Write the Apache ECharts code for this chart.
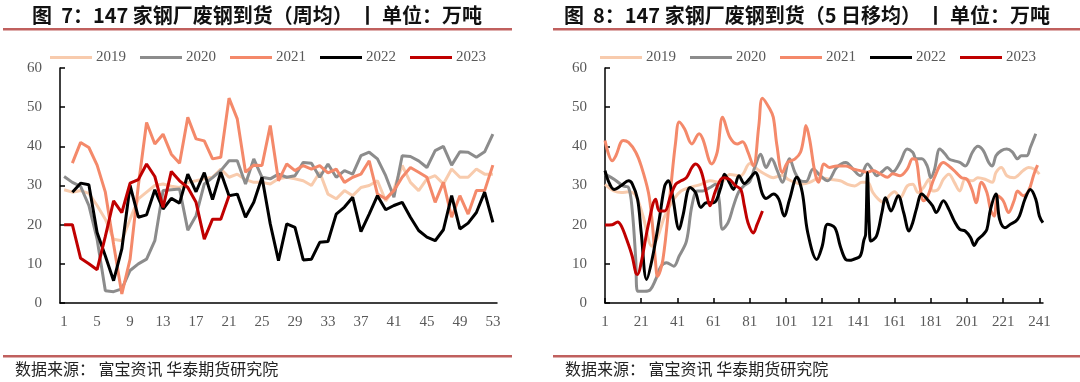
<!DOCTYPE html>
<html><head><meta charset="utf-8">
<script src="https://cdn.jsdelivr.net/npm/echarts@6/dist/echarts.min.js"></script>
<style>html,body{margin:0;padding:0;background:#fff}#c{width:1080px;height:382px}</style>
</head><body><div id="c"></div>
<script>
// ---- Left chart: weekly average (weeks 1..53)
const weeks = Array.from({length: 53}, (_, i) => String(i + 1));
const w2019 = [28.9,28.3,28.7,28,24.9,21.4,16.3,15.9,21.4,26.6,28.3,30,30.4,29.8,29.5,30.8,31.2,31.7,32.1,34.2,32.1,32.9,31.5,30.8,30.8,30.4,31.7,32.1,31.7,31.2,30,33.4,27.8,26.6,28.7,27.4,29.5,30,31.2,26.1,29.1,35.1,30.8,28.7,31.7,32.5,30.4,34.2,32.1,32.1,34.2,32.9,32.9];
const w2020 = [32.3,30.8,29.8,24.9,16.3,3.1,2.9,3.6,8.3,10,11.2,15.9,28.7,28.9,29.1,18.6,22.3,30.4,32,33.8,36.3,36.3,30.4,36.8,32.1,31.7,32.9,32.1,32.5,35.9,35.7,32.1,35.5,32.1,33.8,32.9,37.6,38.5,36.8,32.5,27,37.6,37.4,36.3,34.6,38.9,40,35.2,38.6,38.5,37.2,38.6,43.1];
const w2021 = [null,35.7,41,39.7,35.2,28.3,15,2.3,11.2,30,46.1,40.6,43.1,38,35.7,47.4,41.9,41.4,36.8,37.2,52.3,47,33.4,35.2,35.1,45.3,31.2,35.5,33.8,35.1,34.2,35.1,33.2,34.2,30.8,32.1,32.9,36.3,27.8,26.6,28.7,32.1,34.6,33.4,32.1,25.7,30.8,21.9,27.4,22.7,28.7,28.7,35.2];
const w2022 = [null,28.3,30.6,30.2,18,12,5.7,13.8,30,21.9,22.5,28.9,24,26.7,25.5,32.9,28.4,33.3,26.4,33.4,27.4,27.8,21.9,25.7,32.1,20.2,10.8,20.2,19.3,11,11.2,15.5,15.7,22.7,24.5,27,18.2,22.7,27.4,23.8,24.9,25.7,21.9,18.5,16.8,15.9,18.7,27.4,18.9,20.4,23.1,28.3,20.6];
const w2023 = [20,20,11.4,10,8.5,17,26.1,23.1,30.6,31.5,35.5,32.3,24.4,33.6,31.2,29.5,25.7,16.3,21.4,21.4,27.4];

// ---- Right chart: 5-day moving average (days 1..243), values read at sample days [day, value]
const days = Array.from({length: 243}, (_, i) => String(i + 1));
const d2019 = [[1,30.3],[6,28.6],[10,28.2],[14,28.4],[18,27.4],[22,22.2],[27,14.5],[30,16.7],[34,22.2],[39,26.5],[43,28.6],[48,29.5],[54,30.3],[59,31.2],[65,30.8],[70,32.8],[76,32.5],[81,35.6],[85,34.2],[89,33],[94,32],[99,32.6],[102,31.6],[106,30.8],[110,30.4],[114,30.8],[120,32],[125,31.6],[131,31.2],[135,30.3],[139,29.9],[143,30.8],[146,30.8],[149,28.2],[152,26.5],[155,25.6],[158,27.4],[161,28.4],[164,26.9],[168,29.9],[171,30.3],[174,28.2],[177,29.5],[180,31.6],[182,28.6],[185,29],[188,31.6],[191,32.9],[194,30.8],[197,28.6],[200,31.6],[204,31.2],[207,32],[211,31.6],[215,30.8],[217,33.3],[220,34.6],[223,32.5],[227,32],[229,32.5],[232,33.8],[235,34.6],[238,34.2],[241,32.9]];
const d2020 = [[1,32.9],[6,31.6],[11,29.9],[14,29.5],[16,23.9],[18,11.1],[19,3],[23,3],[26,3.4],[29,6],[32,9.4],[35,10.3],[39,9.4],[42,12],[46,15.8],[49,24.8],[52,28.6],[55,28.6],[59,29.5],[62,30.3],[64,26.5],[66,18.8],[69,20.5],[72,24.8],[75,28.5],[78,30],[81,31],[84,35],[87,38],[90,34.6],[93,36.8],[96,34],[99,30.8],[103,36.8],[106,33.3],[109,31.2],[112,31],[116,34.2],[120,32.5],[124,31.2],[129,34.6],[134,35.9],[138,34.2],[142,32.5],[146,35.5],[149,33.8],[151,32.5],[154,33.5],[157,34.6],[160,33.5],[164,35.9],[168,39.3],[171,38.5],[173,36.8],[176,36.8],[179,35],[181,32],[183,34],[186,39.3],[189,38],[191,36.8],[194,36.3],[197,35.9],[200,35],[204,38.5],[207,40],[210,38.9],[213,35.9],[215,35],[217,37.6],[220,38.9],[223,39.3],[226,38.6],[229,36.8],[231,37.6],[234,37.6],[236,39.7],[239,43.2]];
const d2021 = [[1,41.5],[5,36.3],[7,37.6],[11,41.5],[14,41],[18,38.5],[21,35],[25,28.2],[27,21],[29,10],[30,6.8],[33,11.1],[37,28],[40,41],[42,46.2],[45,44.4],[49,40.6],[53,43.2],[55,41.9],[60,35.5],[63,38.5],[66,47.4],[70,42.3],[74,40.6],[77,41.2],[80,38.5],[83,35],[86,45.3],[88,52.3],[92,49.6],[94,47.4],[96,40.2],[99,33.3],[102,35.9],[106,36.8],[109,38.5],[111,42.7],[112,45.3],[114,41.9],[117,33.3],[119,30.8],[122,35.5],[125,34.6],[129,35],[134,35],[138,34.2],[142,33.8],[146,33.4],[149,33.8],[153,33],[157,32.1],[160,33],[164,32.5],[168,34.2],[171,36.8],[173,36.4],[175,29.9],[177,26.1],[179,26.9],[183,32],[188,35.9],[192,34.6],[195,33.3],[198,32],[201,31.6],[204,28.6],[206,25.6],[209,30.8],[212,28.2],[214,23.9],[216,22.2],[218,27.4],[221,26.1],[224,23.1],[227,26.1],[229,28.6],[232,27.4],[235,28.6],[238,32.9],[240,35.2]];
const d2022 = [[1,33.8],[3,31],[6,29],[10,30],[14,31.2],[16,30.5],[19,26.5],[21,18],[24,6],[27,11.1],[31,21.4],[34,29.9],[36,31.2],[38,28.2],[42,18.8],[44,22.2],[48,29.5],[51,28.2],[54,24.4],[57,25.6],[61,25.6],[65,29.5],[67,32.9],[70,30.5],[72,29],[75,32.5],[78,30.5],[81,31.8],[84,33.3],[88,27.8],[90,26.7],[94,27.8],[97,26.5],[100,22.2],[103,26.5],[107,32.1],[110,28.2],[113,18],[118,11.1],[121,14.5],[124,20.1],[128,19.2],[131,14.5],[134,11.1],[136,10.9],[138,11.1],[142,12],[144,16],[145,17.5],[146,33.3],[147,20],[148,15.8],[151,17.1],[154,23.1],[156,26.9],[159,23.5],[163,27.4],[166,23.1],[169,18.4],[171,20.5],[173,23.9],[176,27.8],[179,26.5],[182,24.8],[184,23.1],[188,26.1],[191,23.9],[194,20.9],[197,18.8],[200,18.4],[203,16.7],[205,14.7],[207,16.2],[210,17.5],[212,18.8],[214,23.9],[217,27.8],[219,21.4],[222,19.2],[225,20.1],[228,20.9],[230,22.2],[233,26.5],[236,29],[239,26.5],[241,22.2],[243,20.5]];
const d2023 = [[1,19.9],[5,20],[8,20.7],[10,19.7],[13,16.2],[16,12],[18,7.7],[19,7.3],[21,10.3],[25,20.1],[29,26.5],[31,23.5],[34,23.5],[37,27],[40,30.3],[43,31.2],[46,32],[49,34.6],[51,35.5],[54,33.8],[57,28.2],[59,24.8],[62,28.6],[65,31.6],[67,32],[70,31.5],[73,30],[76,29],[78,24.8],[80,20.5],[83,17.9],[85,20],[88,23.5]];

const seriesNames = ['2019','2020','2021','2022','2023'];
const yTicks = [0,10,20,30,40,50,60];
const titleLeft = '图  7：147 家钢厂废钢到货（周均） 丨 单位：万吨';
const titleRight = '图  8：147 家钢厂废钢到货（5 日移均） 丨 单位：万吨';
const sourceText = '数据来源： 富宝资讯 华泰期货研究院';

const colors = ['#F8CBAD','#8C8C8C','#F4896A','#000000','#C00000'];
function expand(pairs){ const a = new Array(243).fill(null); pairs.forEach(p => { a[p[0]-1] = p[1]; }); return a; }

const serif = 'Liberation Serif';
const labelStyle = {color:'#595959', fontFamily: serif, fontSize: 15};
function yAxis(gi){ return {type:'value', gridIndex: gi, min: yTicks[0], max: yTicks[yTicks.length-1], interval: 10,
  axisLine:{show:true, lineStyle:{color:'#000', width:1.5}}, axisTick:{show:true, inside:true, length:5, lineStyle:{color:'#000', width:1.5}},
  splitLine:{show:false}, axisLabel:{...labelStyle, margin:18}}; }

const leftData = [w2019,w2020,w2021,w2022,w2023];
const rightData = [d2019,d2020,d2021,d2022,d2023].map(expand);

const series = [];
seriesNames.forEach((n,i) => series.push({name:n, type:'line', xAxisIndex:0, yAxisIndex:0, data: leftData[i], symbol:'none', lineStyle:{width:3, color:colors[i]}, itemStyle:{color:colors[i]}, z: 2+i}));
seriesNames.forEach((n,i) => series.push({name:n, type:'line', xAxisIndex:1, yAxisIndex:1, data: rightData[i], connectNulls:true, smooth:0.35, symbol:'none', lineStyle:{width:3, color:colors[i]}, itemStyle:{color:colors[i]}, z: 2+i}));

const legendBase = {data: seriesNames, top: 45, itemWidth: 42, itemHeight: 3, icon: 'rect', itemGap: 14,
  textStyle:{color:'#595959', fontFamily: serif, fontSize: 15, padding:[0,0,0,-1]}};

const chart = echarts.init(document.getElementById('c'), null, {renderer:'canvas'});
chart.setOption({
  animation: false,
  backgroundColor: '#fff',
  legend: [ {...legendBase, left: 45}, {...legendBase, left: 595} ],
  grid: [ {left:60, top:68, width:437, height:235}, {left:605, top:68, width:438, height:235} ],
  xAxis: [
    {type:'category', gridIndex:0, data: weeks, boundaryGap:true,
     axisLine:{lineStyle:{color:'#000', width:1.5}}, axisTick:{inside:true, length:5, interval:3, lineStyle:{color:'#000', width:1.5}},
     axisLabel:{...labelStyle, interval:3, margin:12}},
    {type:'category', gridIndex:1, data: days, boundaryGap:false,
     axisLine:{lineStyle:{color:'#000', width:1.5}}, axisTick:{inside:true, length:5, interval:19, lineStyle:{color:'#000', width:1.5}},
     axisLabel:{...labelStyle, interval:19, margin:12}}
  ],
  yAxis: [yAxis(0), yAxis(1)],
  series: series,
  graphic: [
    {type:'text', x: 257, y: 5, style:{text: titleLeft, align:'center', font: 'bold 20px "Noto Sans CJK SC"', fill:'#111'}},
    {type:'text', x: 807, y: 5, style:{text: titleRight, align:'center', font: 'bold 20px "Noto Sans CJK SC"', fill:'#111'}},
    {type:'rect', shape:{x:3, y:28, width:509, height:2.5}, style:{fill:'#C0605E'}},
    {type:'rect', shape:{x:553, y:28, width:527, height:2.5}, style:{fill:'#C0605E'}},
    {type:'rect', shape:{x:3, y:355, width:509, height:2.5}, style:{fill:'#C0605E'}},
    {type:'rect', shape:{x:553, y:355, width:527, height:2.5}, style:{fill:'#C0605E'}},
    {type:'text', x: 15, y: 361, style:{text: sourceText, font: '16px "Noto Sans CJK SC"', fill:'#222'}},
    {type:'text', x: 565, y: 361, style:{text: sourceText, font: '16px "Noto Sans CJK SC"', fill:'#222'}}
  ]
});
</script></body></html>
